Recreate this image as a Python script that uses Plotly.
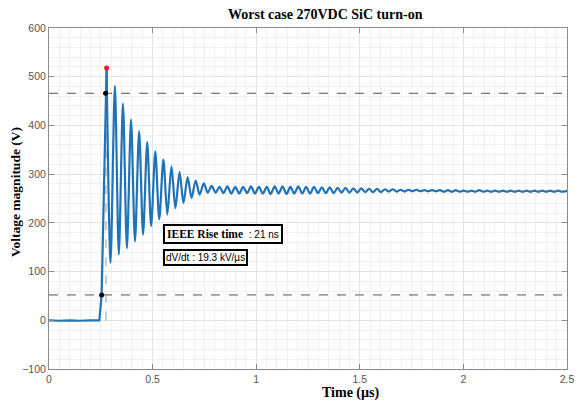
import plotly.graph_objects as go

# ---- data (time in µs, voltage in V) ----
rise_t = [0.0, 0.05, 0.10, 0.15, 0.20, 0.243, 0.254, 0.273, 0.278]
rise_v = [0, -1, 0, -1, 0, 0, 52, 466, 518]

osc_t = [0.278, 0.297, 0.318, 0.337, 0.357, 0.376, 0.396, 0.415, 0.435, 0.454,
         0.474, 0.493, 0.513, 0.532, 0.552, 0.571, 0.591, 0.610, 0.630, 0.649,
         0.669, 0.688, 0.708, 0.727, 0.747, 0.766, 0.785, 0.804,
         0.823, 0.842, 0.861, 0.880, 0.899, 0.918, 0.937, 0.956, 0.975, 0.994,
         1.013, 1.032, 1.051, 1.070, 1.089, 1.108, 1.127, 1.146, 1.165, 1.184,
         1.203, 1.222, 1.241, 1.260, 1.279, 1.298, 1.317, 1.336, 1.355, 1.374,
         1.393, 1.412, 1.431, 1.450, 1.469, 1.488, 1.507, 1.526, 1.545, 1.564,
         1.583, 1.602, 1.621, 1.640, 1.659, 1.678, 1.697, 1.716, 1.735, 1.754,
         1.773, 1.792, 1.811, 1.830, 1.849, 1.868, 1.887, 1.906, 1.925, 1.944,
         1.963, 1.982, 2.001, 2.020, 2.039, 2.058, 2.077, 2.096, 2.115, 2.134,
         2.153, 2.172, 2.191, 2.210, 2.229, 2.248, 2.267, 2.286, 2.305, 2.324,
         2.343, 2.362, 2.381, 2.400, 2.419, 2.438, 2.457, 2.476, 2.495, 2.500]
osc_v = [518, 118, 481, 135, 445, 148, 412, 162, 388, 176,
         366, 193, 347, 207, 330, 217, 316, 230, 304, 241,
         294, 251, 287, 258, 281, 262, 276, 262,
         274, 261, 275, 260, 274, 260, 274, 261, 275, 260,
         274, 260, 274, 259, 275, 260, 275, 259, 274, 260,
         275, 260, 274, 260, 274, 261, 273, 261, 273, 261,
         272, 262, 272, 262, 271, 262, 271, 263, 270, 263,
         270, 263, 269, 264, 269, 264, 268, 264, 268, 265,
         268, 265, 267, 265, 267, 265, 267, 264, 267, 264,
         267, 264, 266, 264, 266, 264, 267, 264, 266, 264,
         266, 264, 266, 264, 266, 264, 266, 264, 266, 264,
         266, 264, 266, 264, 266, 264, 266, 264, 265, 265]

peak_t, peak_v = [0.278], [518]
mark_t, mark_v = [0.254, 0.273], [52, 466]
level_lo, level_hi = 52, 466
t90 = 0.275

x_ticks = [0, 0.5, 1, 1.5, 2, 2.5]
x_labels = ["0", "0.5", "1", "1.5", "2", "2.5"]
y_ticks = [-100, 0, 100, 200, 300, 400, 500, 600]

BLUE = "#1f74b8"
fig = go.Figure()

# reference dashed lines
fig.add_trace(go.Scatter(x=[0, 2.5], y=[level_hi, level_hi], mode="lines",
                         line=dict(color="#555555", width=1, dash="dash"), hoverinfo="skip"))
fig.add_trace(go.Scatter(x=[0, 2.5], y=[level_lo, level_lo], mode="lines",
                         line=dict(color="#555555", width=1, dash="dash"), hoverinfo="skip"))
fig.add_trace(go.Scatter(x=[t90, t90], y=[0, level_hi], mode="lines",
                         line=dict(color="#9a9a9a", width=1, dash="dash"), hoverinfo="skip"))

# waveform
fig.add_trace(go.Scatter(x=rise_t, y=rise_v, mode="lines",
                         line=dict(color=BLUE, width=2.2)))
fig.add_trace(go.Scatter(x=osc_t, y=osc_v, mode="lines",
                         line=dict(color=BLUE, width=2.2, shape="spline", smoothing=0.8)))

# markers
fig.add_trace(go.Scatter(x=mark_t, y=mark_v, mode="markers",
                         marker=dict(color="black", size=5)))
fig.add_trace(go.Scatter(x=peak_t, y=peak_v, mode="markers",
                         marker=dict(color="#e8202a", size=5)))

W, H = 576, 406
L, R, T, B = 49, 9, 28, 37
pw, ph = W - L - R, H - T - B

def px(x):
    return (x - L) / pw

def py(y):
    return (H - B - y) / ph

serif = "Liberation Serif"
sans = "Liberation Sans"

fig.update_layout(
    width=W, height=H,
    margin=dict(l=L, r=R, t=T, b=B, autoexpand=False),
    paper_bgcolor="white", plot_bgcolor="white",
    showlegend=False,
    xaxis=dict(range=[0, 2.5], tickvals=x_ticks, ticktext=x_labels, automargin=False,
               ticks="inside", ticklen=5, tickcolor="#8a8a8a",
               showline=True, linecolor="#8a8a8a", linewidth=1, mirror="ticks",
               showgrid=True, gridcolor="#e3e3e3", gridwidth=1, zeroline=False,
               minor=dict(dtick=0.05, showgrid=True, gridcolor="#f1f1f1", gridwidth=1),
               tickfont=dict(family=sans, size=10.5, color="#555555")),
    yaxis=dict(range=[-100, 600], tickvals=y_ticks, automargin=False,
               ticks="inside", ticklen=5, tickcolor="#8a8a8a",
               showline=True, linecolor="#8a8a8a", linewidth=1, mirror="ticks",
               showgrid=True, gridcolor="#e3e3e3", gridwidth=1, zeroline=False,
               minor=dict(dtick=20, showgrid=True, gridcolor="#f1f1f1", gridwidth=1),
               tickfont=dict(family=sans, size=10.5, color="#555555")),
    annotations=[
        dict(text="<b>Worst case 270VDC SiC turn-on</b>", xref="paper", yref="paper",
             x=px(325), y=py(14), showarrow=False, xanchor="center", yanchor="middle",
             font=dict(family=serif, size=14, color="black")),
        dict(text="<b>Time (µs)</b>", xref="paper", yref="paper",
             x=px(351), y=py(393), showarrow=False, xanchor="center", yanchor="middle",
             font=dict(family=serif, size=14, color="black")),
        dict(text="<b>Voltage magnitude (V)</b>", xref="paper", yref="paper",
             x=px(15), y=py(192), showarrow=False, xanchor="center", yanchor="middle",
             textangle=-90, font=dict(family=serif, size=13.5, color="black")),
        dict(text="<b>IEEE Rise time</b>  <span style='font-family:Liberation Sans;font-size:10px'>: 21 ns</span>",
             xref="paper", yref="paper", x=px(163), y=py(234), showarrow=False,
             xanchor="left", yanchor="middle", bgcolor="white",
             bordercolor="black", borderwidth=2, borderpad=2,
             font=dict(family=serif, size=11.5, color="black")),
        dict(text="dV/dt : 19.3 kV/µs",
             xref="paper", yref="paper", x=px(163), y=py(257.5), showarrow=False,
             xanchor="left", yanchor="middle", bgcolor="white",
             bordercolor="black", borderwidth=2, borderpad=1,
             font=dict(family=sans, size=10, color="black")),
    ],
)

fig.write_html("out.html", config={"displayModeBar": False},
               post_script="document.body.style.margin='0';document.body.style.overflow='hidden';")
